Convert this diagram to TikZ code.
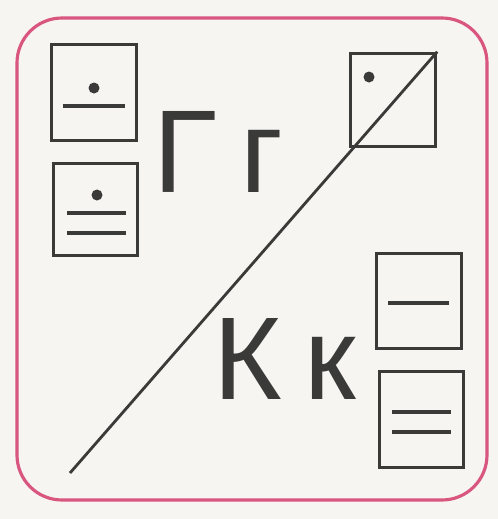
\documentclass[tikz,border=0pt]{standalone}
\usepackage{fontspec}
\setmainfont{Liberation Sans}
\definecolor{Frame}{RGB}{216, 86, 128}
\definecolor{Ink}{RGB}{58, 58, 56}
\definecolor{Paper}{RGB}{247, 245, 242}

\newcommand{\letterfont}{\fontsize{67}{67}\selectfont\spaceskip 0.46cm\relax}

\tikzset{
    card/.style={draw=Ink, line width=2pt, inner sep=0pt},
    bar/.style={Ink, line width=2.2pt},
    letters/.style={Ink, font=\letterfont, inner sep=0pt, anchor=base west},
}

\begin{document}
\begin{tikzpicture}

\useasboundingbox (0,0) rectangle (9.96,10.38);
\fill[Paper] (0,0) rectangle (9.96,10.38);

% Frame
\draw[Frame, line width=1.8pt, rounded corners=0.9cm] (0.34,0.38) rectangle (9.74,10.02);

% Left cards: dot over one or two bars
\node[card, minimum width=1.70cm, minimum height=1.92cm] (gcardA) at (1.88,8.53) {};
\fill[Ink] (1.88,8.62) circle (0.11);
\draw[bar] (1.26,8.26) -- (2.50,8.26);

\node[card, minimum width=1.68cm, minimum height=1.84cm] (gcardB) at (1.91,6.19) {};
\fill[Ink] (1.94,6.48) circle (0.11);
\draw[bar] (1.34,6.12) -- (2.52,6.12);
\draw[bar] (1.34,5.72) -- (2.52,5.72);

% Letters
\node[letters] (gee) at (3.07,6.53) {Г г};
\node[letters] (ka) at (4.26,2.38) {К к};

% Top right card and the diagonal
\node[card, minimum width=1.70cm, minimum height=1.86cm] (cardC) at (7.86,8.38) {};
\fill[Ink] (7.38,8.84) circle (0.11);
\coordinate (tail) at (1.40,0.92);
\draw[Ink, line width=1.6pt] (tail) -- (cardC.north east);

% Right cards: one or two bars
\node[card, minimum width=1.70cm, minimum height=1.90cm] (kcardA) at (8.38,4.36) {};
\draw[bar] (7.76,4.32) -- (8.98,4.32);

\node[card, minimum width=1.68cm, minimum height=1.92cm] (kcardB) at (8.43,1.99) {};
\draw[bar] (7.84,2.14) -- (9.02,2.14);
\draw[bar] (7.84,1.74) -- (9.02,1.74);

\end{tikzpicture}
\end{document}
